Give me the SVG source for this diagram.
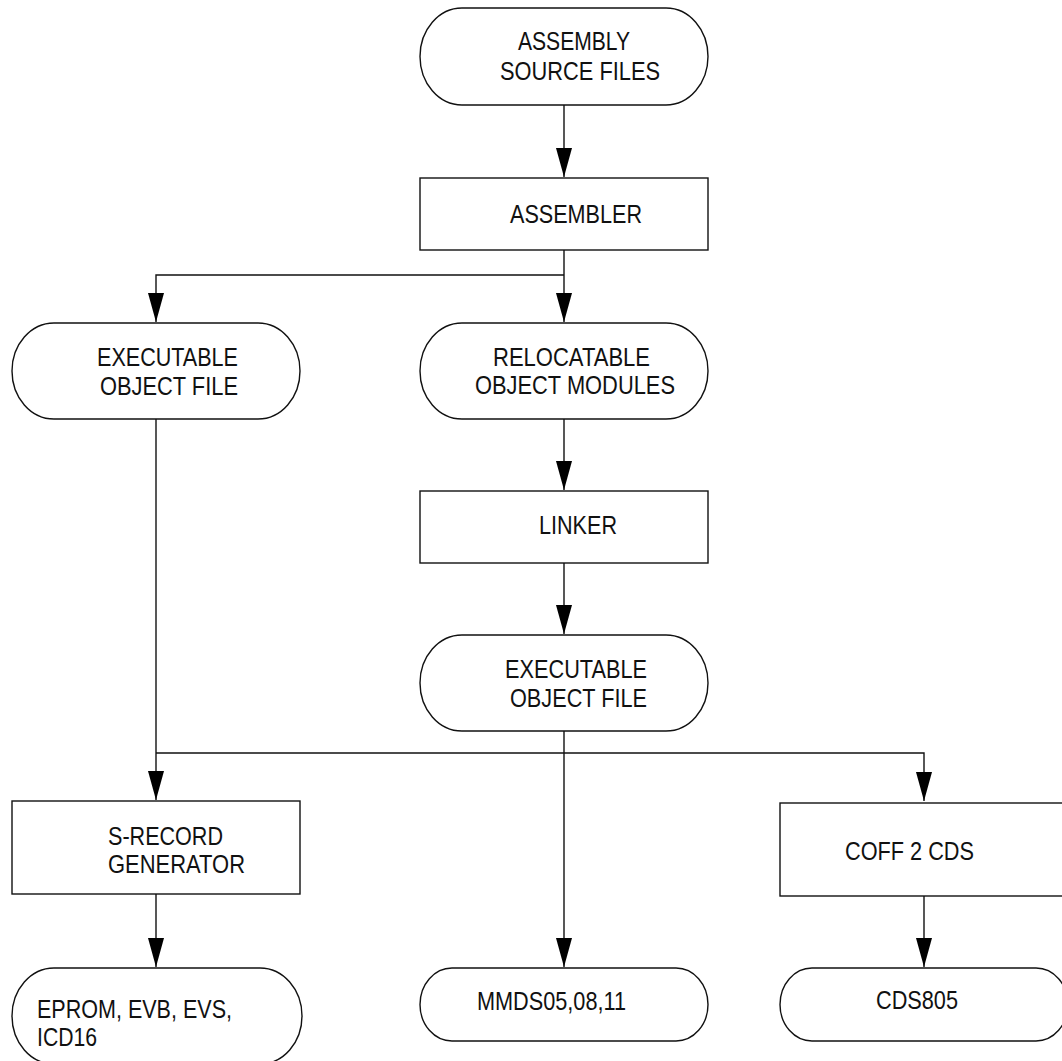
<svg xmlns="http://www.w3.org/2000/svg" width="1062" height="1061" viewBox="0 0 1062 1061">
<style>
.n{fill:#fff;stroke:#111;stroke-width:1.4}
.c{fill:none;stroke:#111;stroke-width:1.4}
.t{font-family:"Liberation Sans",Arial,sans-serif;font-size:25px;fill:#111}
.tl{font-size:26px}
</style>
<defs>
<marker id="ah" markerUnits="userSpaceOnUse" markerWidth="30" markerHeight="18" viewBox="0 -9 30 18" refX="29" refY="0" orient="auto">
<path d="M0,-8 L29,0 L0,8 Z" fill="#000"/>
</marker>
</defs>
<rect width="1062" height="1061" fill="#fff"/>
<g id="connectors">
<path class="c" d="M564,105 V177" marker-end="url(#ah)"/>
<path class="c" d="M564,250 V322" marker-end="url(#ah)"/>
<path class="c" d="M564,275 H156 V322" marker-end="url(#ah)"/>
<path class="c" d="M564,419 V490" marker-end="url(#ah)"/>
<path class="c" d="M564,563 V634" marker-end="url(#ah)"/>
<path class="c" d="M156,419 V800" marker-end="url(#ah)"/>
<path class="c" d="M564,731 V967" marker-end="url(#ah)"/>
<path class="c" d="M156,753 H924 V801" marker-end="url(#ah)"/>
<path class="c" d="M156,894 V967" marker-end="url(#ah)"/>
<path class="c" d="M924,896 V967" marker-end="url(#ah)"/>
</g>
<g id="assembly-source">
<path class="n" d="M462,8 H666 A42,48.5 0 0 1 666,105 H462 A42,48.5 0 0 1 462,8 Z"/>
<text class="t" x="518" y="50" textLength="112" lengthAdjust="spacingAndGlyphs">ASSEMBLY</text>
<text class="t" x="500" y="80" textLength="160" lengthAdjust="spacingAndGlyphs">SOURCE FILES</text>
</g>
<g id="assembler">
<rect class="n" x="420" y="178" width="288" height="72"/>
<text class="t" x="510" y="223" textLength="132" lengthAdjust="spacingAndGlyphs">ASSEMBLER</text>
</g>
<g id="exec-left">
<path class="n" d="M54,323 H258 A42,48 0 0 1 258,419 H54 A42,48 0 0 1 54,323 Z"/>
<text class="t" x="97" y="366" textLength="141" lengthAdjust="spacingAndGlyphs">EXECUTABLE</text>
<text class="t" x="100" y="395" textLength="138" lengthAdjust="spacingAndGlyphs">OBJECT FILE</text>
</g>
<g id="relocatable">
<path class="n" d="M462,323 H666 A42,48 0 0 1 666,419 H462 A42,48 0 0 1 462,323 Z"/>
<text class="t" x="493" y="366" textLength="157" lengthAdjust="spacingAndGlyphs">RELOCATABLE</text>
<text class="t" x="475" y="394" textLength="200" lengthAdjust="spacingAndGlyphs">OBJECT MODULES</text>
</g>
<g id="linker">
<rect class="n" x="420" y="491" width="288" height="72"/>
<text class="t" x="539" y="534" textLength="78" lengthAdjust="spacingAndGlyphs">LINKER</text>
</g>
<g id="exec-mid">
<path class="n" d="M462,635 H666 A42,48 0 0 1 666,731 H462 A42,48 0 0 1 462,635 Z"/>
<text class="t" x="505" y="678" textLength="142" lengthAdjust="spacingAndGlyphs">EXECUTABLE</text>
<text class="t" x="510" y="707" textLength="137" lengthAdjust="spacingAndGlyphs">OBJECT FILE</text>
</g>
<g id="srecord">
<rect class="n" x="12" y="801" width="288" height="93"/>
<text class="t" x="108" y="845" textLength="115" lengthAdjust="spacingAndGlyphs">S-RECORD</text>
<text class="t" x="108" y="873" textLength="137" lengthAdjust="spacingAndGlyphs">GENERATOR</text>
</g>
<g id="coff2cds">
<rect class="n" x="780" y="803" width="290" height="93"/>
<text class="t" x="845" y="860" textLength="129" lengthAdjust="spacingAndGlyphs">COFF 2 CDS</text>
</g>
<g id="eprom">
<path class="n" d="M54,968 H260 A42,48 0 0 1 260,1064 H54 A42,48 0 0 1 54,968 Z"/>
<text class="t tl" x="37" y="1018" textLength="195" lengthAdjust="spacingAndGlyphs">EPROM, EVB, EVS,</text>
<text class="t tl" x="37" y="1046" textLength="60" lengthAdjust="spacingAndGlyphs">ICD16</text>
</g>
<g id="mmds">
<path class="n" d="M452,968 H676 A32,36.5 0 0 1 676,1041 H452 A32,36.5 0 0 1 452,968 Z"/>
<text class="t" x="477" y="1010" textLength="149" lengthAdjust="spacingAndGlyphs">MMDS05,08,11</text>
</g>
<g id="cds805">
<path class="n" d="M812,968 H1036 A32,36.5 0 0 1 1036,1041 H812 A32,36.5 0 0 1 812,968 Z"/>
<text class="t" x="876" y="1009" textLength="82" lengthAdjust="spacingAndGlyphs">CDS805</text>
</g>
</svg>
